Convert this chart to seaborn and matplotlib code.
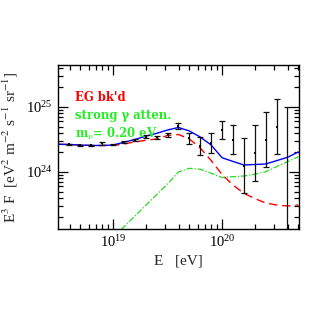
import numpy as np
import pandas as pd
import matplotlib
matplotlib.use("Agg")
import matplotlib.pyplot as plt
import seaborn as sns
from matplotlib.ticker import LogLocator, NullFormatter

# ---- data (log10 values) ----
curve_logE = [18.5, 18.6, 18.7, 18.8, 18.9, 19.0, 19.1, 19.2, 19.3, 19.4, 19.5, 19.6,
              19.7, 19.8, 19.9, 20.0, 20.1, 20.2, 20.3, 20.4, 20.5, 20.6, 20.7]
total_logF = [24.426, 24.423, 24.415, 24.408, 24.408, 24.415, 24.457, 24.500, 24.551, 24.595,
              24.646, 24.685, 24.631, 24.538, 24.415, 24.220, 24.162, 24.108, 24.115, 24.123,
              24.174, 24.226, 24.308]
egbkd_logF = [24.426, 24.423, 24.415, 24.408, 24.408, 24.408, 24.431, 24.462, 24.488, 24.508,
              24.562, 24.577, 24.508, 24.369, 24.177, 23.962, 23.800, 23.672, 23.592, 23.523,
              23.492, 23.477, 23.492]
green_logE = [19.0, 19.1, 19.2, 19.3, 19.4, 19.5, 19.6, 19.7, 19.8, 19.9, 20.0, 20.1,
              20.2, 20.3, 20.4, 20.5, 20.6, 20.7]
atten_logF = [22.992, 23.157, 23.322, 23.486, 23.651, 23.815, 24.000, 24.057, 24.042, 23.980,
              23.915, 23.928, 23.938, 23.965, 24.005, 24.082, 24.158, 24.235]

data_logE = [18.6, 18.7, 18.8, 18.9, 19.0, 19.1, 19.2, 19.3, 19.4, 19.5, 19.6, 19.7,
             19.8, 19.9, 20.0, 20.1, 20.2, 20.3, 20.4, 20.5, 20.6]
data_logF = [24.426, 24.411, 24.411, 24.440, 24.420, 24.457, 24.490, 24.543, 24.534, 24.569,
             24.712, 24.518, 24.405, 24.442, 24.646, 24.492, 24.097, 24.297, 24.492, 24.697,
             23.000]
data_hi = [24.436, 24.421, 24.421, 24.466, 24.432, 24.472, 24.510, 24.568, 24.559, 24.604,
           24.758, 24.595, 24.534, 24.595, 24.789, 24.723, 24.528, 24.723, 24.928, 25.123,
           24.995]
data_lo = [24.416, 24.401, 24.401, 24.414, 24.408, 24.442, 24.470, 24.518, 24.509, 24.534,
           24.657, 24.431, 24.262, 24.297, 24.503, 24.272, 23.672, 23.866, 24.072, 24.272,
           22.000]

labels = ["EG bk'd", "strong γ atten.", r"m$_\nu$= 0.20 eV"]
label_colors = ["#ff0000", "#22ee22", "#22ee22"]

# ---- figure ----
sns.set_style("ticks")
plt.rcParams["font.family"] = ["Liberation Serif", "DejaVu Serif"]
plt.rcParams["mathtext.fontset"] = "stix"

fig = plt.figure(figsize=(3.16, 3.16), dpi=100)
ax = fig.add_axes([58 / 316, 1 - 229 / 316, 241 / 316, 164 / 316])

curves = pd.DataFrame({"E": 10 ** np.array(curve_logE),
                       "total": 10 ** np.array(total_logF),
                       "bkd": 10 ** np.array(egbkd_logF)})
green = pd.DataFrame({"E": 10 ** np.array(green_logE), "F": 10 ** np.array(atten_logF)})

sns.lineplot(data=green, x="E", y="F", ax=ax, color="#22dd22", lw=0.9,
             linestyle=(0, (5, 1.5, 1, 1.5)))
sns.lineplot(data=curves, x="E", y="bkd", ax=ax, color="#ff0000", lw=1.0,
             linestyle=(0, (6, 3.5)))
sns.lineplot(data=curves, x="E", y="total", ax=ax, color="#0000ff", lw=1.0)

E = 10 ** np.array(data_logE)
F = 10 ** np.array(data_logF)
lo = F - 10 ** np.array(data_lo)
hi = 10 ** np.array(data_hi) - F
ax.errorbar(E, F, yerr=[lo, hi], fmt="none", ecolor="#111111", elinewidth=0.9,
            capsize=2.4, capthick=0.9, zorder=5)
sns.scatterplot(x=E, y=F, ax=ax, color="black", marker="s", s=3, linewidth=0, zorder=6)

ax.set_xscale("log")
ax.set_yscale("log")
ax.set_xlim(10 ** 18.495, 10 ** 20.706)
ax.set_ylim(10 ** 23.123, 10 ** 25.646)

ax.yaxis.set_major_locator(LogLocator(base=10, numticks=10))
ax.yaxis.set_minor_locator(LogLocator(base=10, subs=np.arange(2, 10), numticks=10))
ax.xaxis.set_major_locator(LogLocator(base=10, numticks=10))
ax.xaxis.set_minor_locator(LogLocator(base=10, subs=np.arange(2, 10), numticks=10))
ax.xaxis.set_minor_formatter(NullFormatter())
ax.yaxis.set_minor_formatter(NullFormatter())

ax.tick_params(which="both", direction="in", top=True, right=True, width=0.9,
               labelsize=10.5, colors="black")
ax.tick_params(which="major", length=7)
ax.tick_params(which="minor", length=3.5)
ax.tick_params(axis="x", which="major", pad=4)
ax.tick_params(axis="y", which="major", pad=4)
for s in ax.spines.values():
    s.set_linewidth(1.0)
    s.set_color("black")

ax.set_xlabel("E   [eV]", fontsize=11, labelpad=3)
ax.set_ylabel(r"E$^3$ F  [eV$^2$ m$^{-2}$ s$^{-1}$ sr$^{-1}$]", fontsize=11, labelpad=4)

ys = [0.80, 0.69, 0.58]
for t, c, yy in zip(labels, label_colors, ys):
    ax.text(0.07, yy, t, color=c, fontsize=8.4, transform=ax.transAxes,
            va="center", ha="left", family="DejaVu Serif", fontweight="bold",
            math_fontfamily="dejavuserif")

fig.savefig("out.png", dpi=100)
